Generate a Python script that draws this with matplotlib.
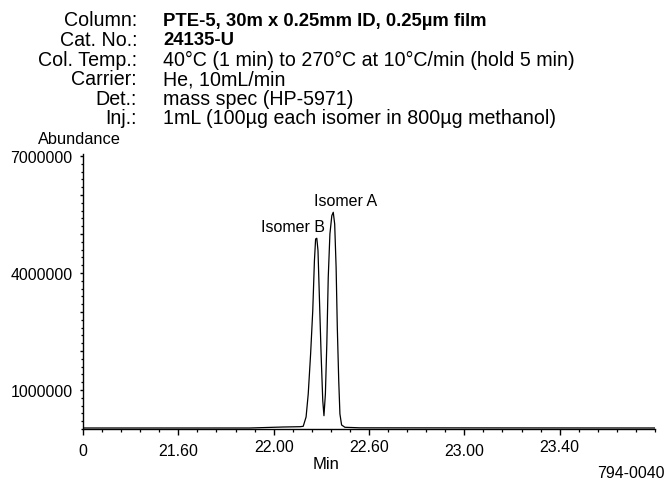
import matplotlib
matplotlib.use("Agg")
import matplotlib.pyplot as plt
from matplotlib.ticker import FixedLocator, MultipleLocator, FuncFormatter

plt.rcParams['font.family'] = ['Liberation Sans', 'DejaVu Sans']

# ---- data ----
times = [21.200, 21.481, 21.901, 22.039, 22.111, 22.124, 22.136, 22.145, 22.155,
         22.164, 22.171, 22.176, 22.181, 22.186, 22.191, 22.199, 22.206, 22.211,
         22.217, 22.223, 22.229, 22.236, 22.244, 22.250, 22.256, 22.262, 22.267,
         22.273, 22.278, 22.285, 22.299, 22.362, 22.950, 23.600]
abundance = [26000, 26000, 26000, 51000, 59000, 69000, 308000, 897000, 1923000,
             3033000, 4315000, 4872000, 4890000, 4572000, 3546000, 1923000, 726000, 341000,
             897000, 2179000, 3890000, 5000000, 5469000, 5556000, 5256000, 4146000, 2608000,
             1238000, 385000, 103000, 44000, 30000, 28000, 26000]

xtick_pos = [21.2, 21.6, 22.0, 22.4, 22.8, 23.2]
xtick_labels = ["0", "21.60", "22.00", "22.60", "23.00", "23.40"]
ytick_pos = [1000000, 2000000, 3000000, 4000000, 5000000, 6000000, 7000000]
ytick_shown = [1000000, 4000000, 7000000]

header_keys = ["Column:", "Cat. No.:", "Col. Temp.:", "Carrier:", "Det.:", "Inj.:"]
header_vals = ["PTE-5, 30m x 0.25mm ID, 0.25\u00b5m film", "24135-U",
               "40\u00b0C (1 min) to 270\u00b0C at 10\u00b0C/min (hold 5 min)",
               "He, 10mL/min", "mass spec (HP-5971)",
               "1mL (100\u00b5g each isomer in 800\u00b5g methanol)"]
header_bold = [True, True, False, False, False, False]

peak_labels = ["Isomer B", "Isomer A"]

W, H = 668, 485
fig = plt.figure(figsize=(W / 100, H / 100), dpi=100)
fig.patch.set_facecolor('white')

def fx(px):
    return px / W

def fy(py):
    return 1 - py / H

ax = fig.add_axes([fx(83), fy(430), fx(655) - fx(83), fy(155) - fy(430)])
ax.plot(times, abundance, color='black', lw=0.9)
ax.set_xlim(21.2, 23.6)
ax.set_ylim(0, 7050000)

for s in ['top', 'right']:
    ax.spines[s].set_visible(False)
for s in ['left', 'bottom']:
    ax.spines[s].set_linewidth(1.0)

ax.xaxis.set_major_locator(FixedLocator(xtick_pos))
ax.set_xticklabels(xtick_labels)
ax.xaxis.set_minor_locator(MultipleLocator(0.08))
ax.yaxis.set_major_locator(FixedLocator(ytick_pos))
ax.yaxis.set_major_formatter(FuncFormatter(lambda v, p: f"{int(round(v))}" if int(round(v)) in ytick_shown else ""))
ax.yaxis.set_minor_locator(MultipleLocator(200000))

ax.tick_params(axis='x', which='major', direction='out', length=4, width=1.0, labelsize=11.5, pad=6)
ax.tick_params(axis='x', which='minor', direction='out', length=2, width=0.9)
ax.tick_params(axis='y', which='major', direction='out', length=2.4, width=1.0, labelsize=11.4, pad=5)
ax.tick_params(axis='y', which='minor', direction='out', length=1.3, width=0.9)

for i, t in enumerate(ax.xaxis.get_major_ticks()):
    if xtick_labels[i] in ("22.00", "22.60", "23.40"):
        t.set_pad(3.5)

# header
row_y = [21, 40.6, 60.2, 79.8, 99.4, 119]
for k, v, b, y in zip(header_keys, header_vals, header_bold, row_y):
    fig.text(fx(137), fy(y), k, ha='right', va='center', fontsize=14.1)
    fig.text(fx(163), fy(y), v, ha='left', va='center', fontsize=13.3 if b else 14.1,
             fontweight='bold' if b else 'normal')

fig.text(fx(79), fy(140), "Abundance", ha='center', va='center', fontsize=11.8)
fig.text(fx(326), fy(465), "Min", ha='center', va='center', fontsize=12)
fig.text(fx(665), fy(474), "794-0040", ha='right', va='center', fontsize=11.4)

fig.text(fx(293), fy(227), peak_labels[0], ha='center', va='center', fontsize=11.5)
fig.text(fx(346), fy(201), peak_labels[1], ha='center', va='center', fontsize=11.5)

fig.savefig("out.png", dpi=100)
